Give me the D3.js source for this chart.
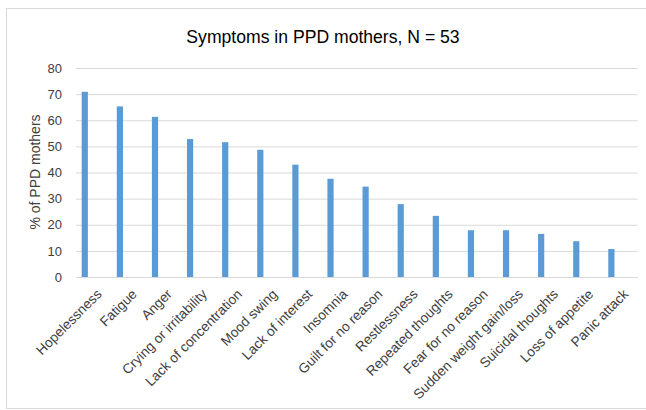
<!DOCTYPE html>
<html>
<head>
<meta charset="utf-8">
<script src="https://cdn.jsdelivr.net/npm/d3@7"></script>
<style>
  body { margin: 0; background: #fff; }
  text { font-family: "Liberation Sans", Arial, sans-serif; fill: #404040; }
</style>
</head>
<body>
<script>
// ================================ data
var symptoms = ["Hopelessness", "Fatigue", "Anger", "Crying or irritability",
  "Lack of concentration", "Mood swing", "Lack of interest", "Insomnia",
  "Guilt for no reason", "Restlessness", "Repeated thoughts", "Fear for no reason",
  "Sudden weight gain/loss", "Suicidal thoughts", "Loss of appetite", "Panic attack"];
var percents = [70.9, 65.3, 61.3, 52.8, 51.6, 48.7, 43.0, 37.6,
  34.6, 27.9, 23.4, 17.9, 17.9, 16.5, 13.7, 10.7];
var yTicks = [0, 10, 20, 30, 40, 50, 60, 70, 80];

var data = symptoms.map(function (s, i) { return { name: s, value: percents[i] }; });

// ================================ svg area
var svgWidth = 646;
var svgHeight = 410;

var chartMargin = { top: 68, right: 8, bottom: 133, left: 76 };
var chartWidth = 637.7 - chartMargin.left;
var chartHeight = 277 - chartMargin.top;

var svg = d3.select("body")
  .append("svg")
  .attr("width", svgWidth)
  .attr("height", svgHeight);

// chart border
svg.append("rect")
  .attr("x", 6.5)
  .attr("y", 8.5)
  .attr("width", 660)
  .attr("height", 400)
  .attr("fill", "none")
  .attr("stroke", "#d9d9d9");

// title
svg.append("text")
  .attr("x", 323)
  .attr("y", 43)
  .attr("text-anchor", "middle")
  .style("font-size", "17.6px")
  .style("fill", "#000")
  .text("Symptoms in PPD mothers, N = 53");

var chartGroup = svg.append("g")
  .attr("transform", `translate(${chartMargin.left}, ${chartMargin.top})`);

// scales
var xBandScale = d3.scaleBand()
  .domain(symptoms)
  .range([0, chartWidth]);

var yLinearScale = d3.scaleLinear()
  .domain([0, 80])
  .range([chartHeight, 0]);

// gridlines
chartGroup.append("g")
  .attr("class", "grid")
  .call(d3.axisLeft(yLinearScale).tickValues(yTicks).tickSize(-chartWidth).tickFormat(""))
  .call(g => g.select(".domain").remove())
  .selectAll("line")
  .attr("stroke", "#d9d9d9");

// y axis labels
chartGroup.append("g")
  .call(d3.axisLeft(yLinearScale).tickValues(yTicks).tickSize(0).tickPadding(14))
  .call(g => g.select(".domain").remove())
  .selectAll("text")
  .style("font-size", "13px")
  .style("font-family", "Liberation Sans, Arial, sans-serif")
  .attr("fill", "#404040");

// x axis
var xAxisG = chartGroup.append("g")
  .attr("transform", `translate(0, ${chartHeight})`)
  .call(d3.axisBottom(xBandScale).tickSize(0).tickPadding(0));
xAxisG.select(".domain").attr("stroke", "#d9d9d9");
xAxisG.selectAll("text")
  .style("font-size", "13.7px")
  .style("font-family", "Liberation Sans, Arial, sans-serif")
  .attr("fill", "#404040")
  .attr("x", 0)
  .attr("y", 0)
  .attr("dy", "0")
  .attr("transform", "translate(9, 18) rotate(-45)")
  .style("text-anchor", "end");

// bars (sit in the left half of each category slot)
var barWidth = 6.2;
chartGroup.selectAll(".bar")
  .data(data)
  .enter()
  .append("rect")
  .attr("class", "bar")
  .attr("x", d => xBandScale(d.name) + xBandScale.bandwidth() * 0.25 - barWidth / 2)
  .attr("y", d => yLinearScale(d.value))
  .attr("width", barWidth)
  .attr("height", d => chartHeight - yLinearScale(d.value))
  .attr("fill", "#5b9bd5");

// y axis title
svg.append("text")
  .attr("transform", "translate(40, 172) rotate(-90)")
  .attr("text-anchor", "middle")
  .style("font-size", "14px")
  .text("% of PPD mothers");
</script>
</body>
</html>
